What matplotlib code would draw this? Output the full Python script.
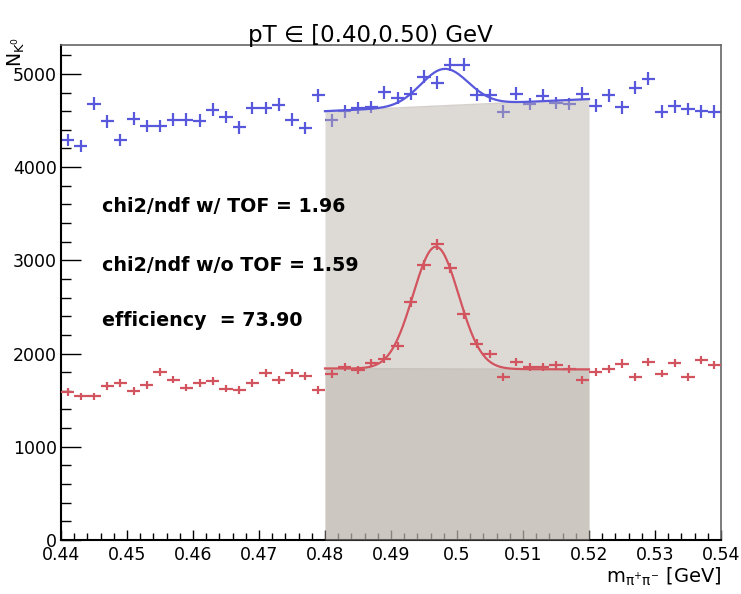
import numpy as np
import matplotlib
matplotlib.use("Agg")
import matplotlib.pyplot as plt

# ---- data ----
bin_centers = [round(0.441 + 0.002 * i, 3) for i in range(50)]
counts_tof = [4287, 4222, 4681, 4491, 4294, 4520, 4444, 4444, 4509, 4509,
              4498, 4617, 4538, 4427, 4634, 4634, 4670, 4509, 4419, 4771,
              4502, 4599, 4634, 4645, 4803, 4742, 4789, 4968, 4903, 5100,
              5100, 4778, 4771, 4595, 4785, 4677, 4767, 4688, 4677, 4789,
              4660, 4771, 4642, 4849, 4946, 4595, 4652, 4624, 4599, 4595]
counts_notof = [1589, 1542, 1542, 1649, 1685, 1596, 1660, 1803, 1721, 1635,
                1685, 1707, 1625, 1607, 1685, 1796, 1714, 1793, 1757, 1607,
                1778, 1856, 1821, 1899, 1946, 2082, 2553, 2954, 3172, 2922,
                2421, 2107, 1993, 1746, 1906, 1851, 1860, 1878, 1830, 1714,
                1806, 1839, 1893, 1749, 1910, 1786, 1903, 1749, 1928, 1882]

# fit results (gaussian + linear background), fit window
fit_range = (0.48, 0.52)
blue_bg = (4600.0, 4730.0)     # background at 0.48 and 0.52
blue_gaus = (395.0, 0.4981, 0.0036)   # amplitude, mean, sigma
red_bg = (1840.0, 1830.0)
red_gaus = (1310.0, 0.4968, 0.00345)

x_ticks = [0.44, 0.45, 0.46, 0.47, 0.48, 0.49, 0.50, 0.51, 0.52, 0.53, 0.54]
x_tick_labels = ["0.44", "0.45", "0.46", "0.47", "0.48", "0.49", "0.5",
                 "0.51", "0.52", "0.53", "0.54"]
y_ticks = [0, 1000, 2000, 3000, 4000, 5000]

title = "pT \u2208 [0.40,0.50) GeV"
texts = ["chi2/ndf w/ TOF = 1.96", "chi2/ndf w/o TOF = 1.59", "efficiency  = 73.90"]

# ---- style ----
BLUE = "#5858dc"
RED = "#d2545e"
FILL = (187 / 255, 179 / 255, 171 / 255)
W, H = 741, 594

fig = plt.figure(figsize=(W / 100, H / 100), dpi=100)
ax = fig.add_axes([61 / W, 1 - 540 / H, 660 / W, 495 / H])

x = np.array(bin_centers)
yb = np.array(counts_tof, dtype=float)
yr = np.array(counts_notof, dtype=float)

ax.errorbar(x, yb, xerr=0.001, yerr=np.sqrt(yb), fmt="none", ecolor=BLUE,
            elinewidth=1.6, capsize=0, zorder=1)

xf = np.linspace(fit_range[0], fit_range[1], 400)


def lin(bg, xx):
    return bg[0] + (bg[1] - bg[0]) * (xx - fit_range[0]) / (fit_range[1] - fit_range[0])


def gaus(p, xx):
    return p[0] * np.exp(-0.5 * ((xx - p[1]) / p[2]) ** 2)


ax.fill_between(xf, 0, lin(blue_bg, xf), color=FILL, alpha=0.485, lw=0, zorder=2)
ax.plot(xf, lin(blue_bg, xf), color=FILL, alpha=0.6, lw=1.0, zorder=2)
ax.fill_between(xf, 0, lin(red_bg, xf), color=FILL, alpha=0.485, lw=0, zorder=3)
ax.plot(xf, lin(red_bg, xf), color=FILL, alpha=0.6, lw=1.0, zorder=3)

ax.errorbar(x, yr, xerr=0.001, yerr=np.sqrt(yr), fmt="none", ecolor=RED,
            elinewidth=1.6, capsize=0, zorder=4)

ax.plot(xf, lin(blue_bg, xf) + gaus(blue_gaus, xf), color=BLUE, lw=1.6, zorder=5)
ax.plot(xf, lin(red_bg, xf) + gaus(red_gaus, xf), color=RED, lw=1.6, zorder=5)

ax.set_xlim(0.44, 0.54)
ax.set_ylim(0, 5310)
ax.set_xticks(x_ticks)
ax.set_xticklabels(x_tick_labels)
ax.set_xticks(np.arange(0.44, 0.5401, 0.002), minor=True)
ax.set_yticks(y_ticks)
ax.set_yticklabels([str(v) for v in y_ticks])
ax.set_yticks(np.arange(0, 5301, 200), minor=True)

ax.tick_params(axis="both", which="both", direction="in", top=False, right=False,
               labelsize=12.5, colors="black")
ax.tick_params(axis="y", which="major", length=14.4, width=1.0, pad=3)
ax.tick_params(axis="y", which="minor", length=7.2, width=1.0)
ax.tick_params(axis="x", which="major", length=7.5, width=1.0, pad=4.5)
ax.tick_params(axis="x", which="minor", length=5.0, width=1.0)

for s in ("left", "bottom"):
    ax.spines[s].set_color("black")
    ax.spines[s].set_linewidth(1.5)
for s in ("top", "right"):
    ax.spines[s].set_color("#666666")
    ax.spines[s].set_linewidth(1.2)

fig.text(0.5, 1 - 42 / H, title, ha="center", va="baseline", fontsize=16.5)

for t, yb_px in zip(texts, [211.7, 270.5, 325.5]):
    fig.text(102 / W, 1 - yb_px / H, t, ha="left", va="baseline",
             fontsize=13.7, fontweight="bold")

fig.text(721 / W, 1 - 583 / H, r"$\mathregular{m_{\pi^{+}\pi^{-}}}$ [GeV]",
         ha="right", va="baseline", fontsize=14)
fig.text(27 / W, 1 - 37 / H, r"$\mathregular{N_{K^{0}}}$", rotation=90,
         ha="right", va="top", fontsize=13.5)

fig.savefig("out.png", dpi=100)
